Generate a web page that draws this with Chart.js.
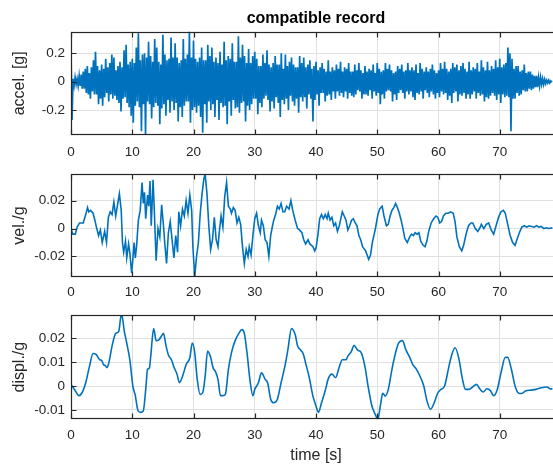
<!DOCTYPE html>
<html>
<head>
<meta charset="utf-8">
<script src="https://cdn.jsdelivr.net/npm/chart.js@4.4.1/dist/chart.umd.min.js"></script>
<style>
html,body{margin:0;padding:0;background:#fff;overflow:hidden;width:553px;height:468px;}
#wrap{position:relative;width:553px;height:468px;overflow:hidden;background:#fff;}
canvas{position:absolute;left:0;}
</style>
</head>
<body>
<div id="wrap">
<canvas id="c1" width="575" height="160" style="top:0px"></canvas>
<canvas id="c2" width="575" height="140" style="top:160px"></canvas>
<canvas id="c3" width="575" height="168" style="top:300px"></canvas>
</div>
<script>
// ---------- data ----------
const titleText = 'compatible record';
const timeTicks = [0, 10, 20, 30, 40, 50, 60, 70];
const accelTicks = [-0.2, 0, 0.2];
const velTicks = [-0.02, 0, 0.02];
const dispTicks = [-0.01, 0, 0.01, 0.02];

// acceleration [g], six samples per second (one row per second)
const accelStep = 1 / 6;
const accelG = [
  0.22,-0.27,0.02,-0.03,0.03,-0.02,   0.02,-0.03,0.04,-0.03,0.05,-0.05,
  0.07,-0.05,0.09,-0.08,0.11,-0.09,   0.06,-0.12,0.10,-0.07,0.15,-0.09,
  0.21,-0.09,0.11,-0.16,0.08,-0.12,   0.12,-0.17,0.09,-0.11,0.16,-0.08,
  0.10,-0.14,0.13,-0.09,0.19,-0.12,   0.17,-0.10,0.08,-0.13,0.11,-0.15,
  0.14,-0.21,0.10,-0.12,0.22,-0.11,   0.26,-0.15,0.12,-0.18,0.14,-0.24,
  0.16,-0.29,0.13,-0.17,0.24,-0.14,   0.34,-0.18,0.15,-0.35,0.19,-0.16,
  0.20,-0.376,0.17,-0.14,0.28,-0.16,  0.18,-0.26,0.14,-0.18,0.30,-0.15,
  0.24,-0.17,0.14,-0.30,0.12,-0.19,   0.33,-0.16,0.19,-0.24,0.15,-0.13,
  0.16,-0.22,0.31,-0.14,0.17,-0.20,   0.27,-0.15,0.17,-0.28,0.13,-0.18,
  0.15,-0.25,0.30,-0.17,0.16,-0.14,   0.19,-0.14,0.352,-0.29,0.17,-0.20,
  0.29,-0.18,0.16,-0.22,0.14,-0.17,   0.17,-0.25,0.24,-0.36,0.15,-0.16,
  0.15,-0.29,0.26,-0.14,0.18,-0.20,   0.24,-0.16,0.14,-0.25,0.17,-0.13,
  0.13,-0.27,0.21,-0.15,0.12,-0.18,   0.28,-0.17,0.15,-0.30,0.18,-0.14,
  0.16,-0.24,0.27,-0.13,0.14,-0.19,   0.14,-0.18,0.32,-0.22,0.17,-0.15,
  0.26,-0.14,0.18,-0.28,0.13,-0.17,   0.23,-0.20,0.13,-0.16,0.18,-0.12,
  0.21,-0.12,0.16,-0.23,0.11,-0.15,   0.11,-0.18,0.19,-0.12,0.13,-0.10,
  0.22,-0.13,0.12,-0.21,0.10,-0.14,   0.13,-0.19,0.18,-0.11,0.12,-0.15,
  0.12,-0.25,0.20,-0.13,0.09,-0.16,   0.19,-0.12,0.11,-0.20,0.14,-0.10,
  0.17,-0.14,0.12,-0.17,0.10,-0.12,   0.10,-0.22,0.18,-0.11,0.13,-0.14,
  0.17,-0.11,0.10,-0.19,0.12,-0.09,   0.15,-0.12,0.09,-0.28,0.11,-0.13,
  0.14,-0.09,0.08,-0.17,0.10,-0.08,   0.13,-0.08,0.09,-0.14,0.07,-0.10,
  0.15,-0.09,0.07,-0.13,0.10,-0.07,   0.08,-0.12,0.12,-0.07,0.09,-0.10,
  0.14,-0.08,0.07,-0.11,0.10,-0.07,   0.09,-0.12,0.13,-0.08,0.07,-0.10,
  0.07,-0.11,0.12,-0.09,0.08,-0.06,   0.13,-0.07,0.08,-0.12,0.06,-0.09,
  0.11,-0.09,0.07,-0.10,0.09,-0.06,   0.08,-0.12,0.12,-0.07,0.06,-0.10,
  0.13,-0.08,0.09,-0.16,0.07,-0.09,   0.08,-0.12,0.13,-0.07,0.09,-0.06,
  0.12,-0.07,0.08,-0.14,0.06,-0.09,   0.07,-0.13,0.11,-0.08,0.09,-0.06,
  0.12,-0.08,0.07,-0.12,0.08,-0.07,   0.13,-0.09,0.08,-0.07,0.10,-0.11,
  0.08,-0.13,0.12,-0.08,0.06,-0.09,   0.13,-0.07,0.09,-0.12,0.07,-0.06,
  0.10,-0.08,0.07,-0.11,0.09,-0.07,   0.12,-0.09,0.08,-0.12,0.06,-0.08,
  0.08,-0.11,0.13,-0.07,0.09,-0.09,   0.14,-0.08,0.09,-0.13,0.07,-0.10,
  0.09,-0.15,0.13,-0.08,0.10,-0.07,   0.12,-0.14,0.08,-0.09,0.11,-0.10,
  0.13,-0.08,0.09,-0.12,0.07,-0.09,   0.14,-0.12,0.08,-0.09,0.10,-0.07,
  0.09,-0.12,0.13,-0.08,0.07,-0.10,   0.15,-0.09,0.10,-0.14,0.08,-0.11,
  0.14,-0.12,0.08,-0.10,0.11,-0.08,   0.09,-0.10,0.15,-0.13,0.10,-0.09,
  0.16,-0.15,0.10,-0.09,0.12,-0.11,   0.13,-0.10,0.24,-0.11,0.20,-0.35,
  0.16,-0.12,0.09,-0.12,0.11,-0.08,   0.11,-0.10,0.07,-0.09,0.08,-0.06,
  0.12,-0.07,0.06,-0.07,0.07,-0.05,   0.07,-0.06,0.05,-0.05,0.04,-0.04,
  0.04,-0.04,0.03,-0.03,0.03,-0.02,   0.02,-0.02,0.015,-0.015,0.01,-0.01,
  0.01,-0.01,0.005,-0.005
];

// velocity / g
const velTime = [
  0.0,0.3,0.7,1.0,1.4,2.0,2.4,2.7,2.9,3.2,
  3.6,3.9,4.1,4.5,4.8,5.1,5.5,5.8,6.1,6.4,
  6.7,7.0,7.3,7.6,7.9,8.2,8.4,8.6,8.9,9.1,
  9.4,9.6,9.9,10.1,10.3,10.5,10.7,11.0,11.3,11.6,
  11.8,12.0,12.2,12.5,12.7,12.9,13.1,13.4,13.6,13.9,
  14.2,14.5,14.8,15.1,15.3,15.6,15.9,16.2,16.5,16.8,
  17.1,17.4,17.6,17.9,18.2,18.5,18.8,19.1,19.4,19.7,
  19.9,20.2,20.5,20.8,21.1,21.4,21.7,21.9,22.2,22.5,
  22.8,23.1,23.4,23.7,24.0,24.2,24.5,24.8,25.1,25.4,
  25.7,26.0,26.2,26.5,26.8,27.1,27.4,27.7,28.0,28.3,
  28.6,28.9,29.1,29.4,29.7,30.0,30.3,30.6,30.9,31.1,
  31.4,31.7,32.0,32.3,32.6,32.9,33.1,33.4,33.7,34.0,
  34.3,34.6,34.9,35.2,35.6,35.9,36.2,36.6,37.0,37.3,
  37.7,38.0,38.3,38.7,39.0,39.5,39.8,40.0,40.3,40.6,
  40.9,41.2,41.5,41.8,42.0,42.3,42.6,42.9,43.2,43.5,
  43.8,44.0,44.3,44.6,44.9,45.2,45.5,45.8,46.1,46.4,
  46.7,47.0,47.3,47.6,48.1,48.6,48.9,49.2,49.7,50.1,
  50.4,50.8,51.1,51.5,51.8,52.1,52.4,52.7,53.0,53.3,
  53.6,53.9,54.2,54.5,54.9,55.3,55.6,55.9,56.2,56.5,
  56.8,57.1,57.5,57.8,58.1,58.4,58.8,59.2,59.6,59.9,
  60.2,60.5,60.8,61.2,61.6,62.0,62.4,62.7,63.0,63.4,
  63.8,64.1,64.5,64.9,65.3,65.6,66.0,66.4,66.7,67.0,
  67.4,67.8,68.2,68.6,69.0,69.4,69.8,70.2,70.6,70.9,
  71.3,71.7,72.1,72.5,72.8,73.2,73.6,74.0,74.4,74.8,
  75.2,75.6,76.0,76.4,76.8,77.2,77.6,78.0,78.6
];
const velG = [
  0.000,-0.004,-0.004,0.001,0.004,0.004,0.010,0.015,0.012,0.013,
  0.011,0.006,0.002,-0.005,-0.001,-0.010,-0.002,-0.010,0.008,0.012,
  0.010,0.019,0.009,0.017,0.025,0.013,-0.010,-0.017,-0.009,-0.021,
  -0.011,-0.017,-0.032,-0.022,-0.010,-0.021,-0.013,0.006,0.013,0.033,
  0.018,0.026,0.007,0.024,0.016,0.034,0.002,0.035,0.013,-0.023,
  0.000,-0.006,0.017,0.002,-0.010,-0.025,-0.003,0.005,-0.008,-0.021,
  -0.005,-0.017,0.012,0.002,0.014,0.009,0.020,0.011,0.024,0.013,
  -0.013,-0.0345,-0.020,-0.010,0.011,0.025,0.036,0.039,0.025,0.002,
  -0.015,-0.008,0.008,-0.008,-0.013,-0.003,0.009,0.001,0.023,0.033,
  0.016,0.014,0.011,0.015,0.013,0.004,0.008,0.003,-0.013,-0.025,
  -0.015,-0.020,-0.013,-0.019,-0.005,0.007,0.011,0.002,-0.003,0.006,
  0.002,-0.008,-0.010,-0.020,-0.005,0.002,0.006,0.010,0.016,0.014,
  0.018,0.012,0.012,0.016,0.014,0.020,0.013,0.006,0.000,-0.001,
  -0.003,-0.008,-0.011,-0.008,-0.011,-0.013,-0.016,-0.014,-0.005,0.007,
  0.010,0.007,0.010,0.007,0.011,0.006,0.008,0.002,0.004,-0.002,
  0.002,0.006,0.012,0.009,0.006,-0.001,0.002,0.006,0.007,0.004,
  0.002,-0.005,-0.008,-0.013,-0.016,-0.022,-0.019,-0.010,0.000,0.010,
  0.014,0.016,0.009,0.002,0.003,0.009,0.013,0.015,0.018,0.015,
  0.011,0.006,0.000,-0.007,-0.010,-0.006,-0.004,-0.005,-0.003,-0.004,
  -0.003,-0.009,-0.012,-0.013,-0.009,-0.002,0.004,0.007,0.009,0.008,
  0.004,0.005,0.009,0.011,0.011,0.012,0.011,0.005,-0.006,-0.013,
  -0.016,-0.012,-0.004,0.002,0.004,0.004,0.000,-0.002,0.000,0.003,
  0.000,0.003,0.004,-0.001,-0.004,0.002,0.008,0.012,0.013,0.011,
  0.003,-0.005,-0.010,-0.012,-0.008,-0.003,0.001,0.002,0.001,0.002,
  0.0015,0.001,0.002,0.001,0.0015,0.000,0.0005,0.000,0.0005
];

// displacement / g
const dispTime = [
  0.0,0.7,1.3,1.8,2.4,3.0,3.6,4.1,4.7,5.0,
  5.3,5.6,5.9,6.2,6.7,7.3,7.8,8.2,8.4,8.7,
  9.1,9.6,10.1,10.5,10.9,11.3,11.8,12.2,12.5,12.8,
  13.0,13.5,13.9,14.3,14.8,15.1,15.5,15.9,16.4,16.8,
  17.3,17.7,18.2,18.8,19.4,19.8,20.2,20.6,21.1,21.5,
  21.9,22.3,22.8,23.2,23.6,24.0,24.4,24.8,25.2,25.7,
  26.2,26.8,27.4,27.9,28.3,28.8,29.2,29.7,30.0,30.6,
  31.1,31.7,32.1,32.6,33.1,33.7,34.3,34.9,35.4,36.0,
  36.6,37.0,37.4,37.9,38.3,38.9,39.5,40.0,40.4,40.9,
  41.5,42.0,42.6,43.2,43.8,44.3,44.9,45.2,45.8,46.2,
  46.8,47.4,48.0,48.5,49.1,49.7,50.1,50.5,50.9,51.3,
  51.8,52.4,53.0,53.5,54.1,54.7,55.3,55.8,56.4,57.0,
  57.6,58.1,58.7,59.3,59.9,60.4,61.0,61.6,62.1,62.7,
  63.3,63.9,64.4,65.0,65.6,66.2,66.7,67.3,67.9,68.5,
  69.0,69.6,70.2,70.9,71.3,71.9,72.5,73.1,73.6,74.2,
  75.1,75.9,76.8,77.7,78.2,78.6
];
const dispG = [
  0.0007,-0.002,-0.004,-0.0028,0.0014,0.008,0.0136,0.0132,0.011,0.0107,
  0.009,0.0085,0.0077,0.010,0.0167,0.022,0.0229,0.0297,0.0285,0.023,
  0.018,0.011,0.000,-0.004,-0.010,-0.011,-0.0104,-0.0014,0.007,0.0075,
  0.012,0.024,0.019,0.0192,0.021,0.022,0.017,0.013,0.011,0.008,
  0.005,0.0014,0.004,0.009,0.0118,0.018,0.014,0.003,-0.0035,-0.0028,
  0.004,0.0146,0.012,0.0076,0.006,0.0028,-0.004,-0.004,-0.0035,0.007,
  0.014,0.019,0.022,0.0236,0.022,0.0125,0.0028,-0.004,-0.0014,0.0014,
  0.0055,0.0028,0.0014,-0.0055,-0.007,-0.0055,0.0014,0.008,0.015,0.024,
  0.0215,0.0167,0.0153,0.0136,0.0097,0.0035,-0.0042,-0.0083,-0.011,-0.007,
  -0.002,0.003,0.005,0.0035,0.008,0.011,0.011,0.0125,0.0146,0.017,
  0.015,0.0139,0.008,0.000,-0.008,-0.012,-0.0139,-0.0083,-0.003,-0.0042,
  -0.0014,0.007,0.014,0.018,0.019,0.015,0.012,0.009,0.007,0.004,
  0.000,-0.006,-0.0097,-0.007,-0.0028,-0.0014,0.000,0.007,0.0125,0.016,
  0.0118,0.003,-0.0014,-0.0014,-0.0003,0.0007,-0.001,-0.0025,-0.0011,-0.002,
  -0.004,-0.0014,0.0055,0.012,0.012,0.007,0.000,-0.003,-0.0031,-0.0021,
  -0.0017,-0.0014,-0.0007,-0.0004,-0.0011,-0.0012
];

// ---------- drawing ----------
const accelTime = accelG.map((_, i) => i * accelStep);
const FONT = "'Liberation Sans', Arial, Helvetica, sans-serif";
const TXT = '#262626';
const BLUE = '#0072BD';
const GRID = '#e0e0e0';
Chart.defaults.font.family = FONT;
Chart.defaults.color = TXT;

const framePlugin = {
  id: 'frame',
  afterDatasetsDraw(chart) {
    const {ctx, chartArea: a, scales} = chart;
    const x = scales.x, y = scales.y;
    const L = Math.round(a.left) + 0.5, R = Math.round(a.right) - 0.5;
    const T = Math.round(a.top) + 0.5, B = Math.round(a.bottom) - 0.5;
    ctx.save();
    ctx.strokeStyle = TXT;
    ctx.lineWidth = 1.2;
    ctx.strokeRect(L, T, R - L, B - T);
    ctx.beginPath();
    x.ticks.forEach(t => {
      const p = Math.round(x.getPixelForValue(t.value)) + 0.5;
      ctx.moveTo(p, T); ctx.lineTo(p, T + 5);
      ctx.moveTo(p, B); ctx.lineTo(p, B - 5);
    });
    y.ticks.forEach(t => {
      const p = Math.round(y.getPixelForValue(t.value)) + 0.5;
      ctx.moveTo(L, p); ctx.lineTo(L + 5, p);
      ctx.moveTo(R, p); ctx.lineTo(R - 5, p);
    });
    ctx.stroke();
    ctx.restore();
  }
};

function panel(id, o) {
  return new Chart(document.getElementById(id), {
    type: 'line',
    data: {
      datasets: [{
        data: o.t.map((tv, i) => ({x: tv, y: o.v[i]})),
        borderColor: BLUE,
        borderWidth: o.lw,
        pointRadius: 0,
        tension: o.smooth ? 0.35 : 0,
        cubicInterpolationMode: o.smooth ? 'monotone' : 'default',
        fill: false
      }]
    },
    options: {
      responsive: false,
      animation: false,
      devicePixelRatio: 1,
      events: [],
      layout: {padding: {top: o.padTop, right: 14, bottom: 0, left: 0}},
      plugins: {
        legend: {display: false},
        tooltip: {enabled: false},
        title: o.title ? {
          display: true, text: o.title, color: '#000', fullSize: false,
          font: {size: 16, weight: 'bold'}, padding: {top: 9, bottom: 3.4}
        } : {display: false}
      },
      scales: {
        x: {
          type: 'linear', min: 0, max: 80,
          afterBuildTicks(s) { s.ticks = timeTicks.map(v => ({value: v})); },
          afterFit(s) { s.height = o.xH; },
          grid: {color: GRID, drawTicks: false},
          border: {display: false},
          ticks: {padding: o.xPad, font: {size: 13.5}, color: TXT, maxRotation: 0, autoSkip: false,
                  callback: v => String(v)},
          title: o.xTitle ? {display: true, text: o.xTitle, font: {size: 16}, color: TXT,
                             padding: {top: 0, bottom: 3}} : {display: false}
        },
        y: {
          min: o.yMin, max: o.yMax,
          afterBuildTicks(s) { s.ticks = o.yTicks.map(v => ({value: v})); },
          afterFit(s) { s.width = 71; },
          grid: {color: GRID, drawTicks: false},
          border: {display: false},
          ticks: {padding: 6, font: {size: 13.5}, color: TXT, autoSkip: false, callback: v => String(v)},
          title: {display: true, text: o.yTitle, font: {size: 16}, color: TXT, padding: {top: 10, bottom: 0}}
        }
      }
    },
    plugins: [framePlugin]
  });
}

panel('c1', {t: accelTime, v: accelG, lw: 1.7, padTop: 0, title: titleText, xH: 25, xPad: 9,
             yMin: -0.376, yMax: 0.352, yTicks: accelTicks, yTitle: 'accel. [g]'});
panel('c2', {t: velTime, v: velG, lw: 1.6, padTop: 13.5, xH: 23, xPad: 7.5,
             yMin: -0.0347, yMax: 0.039, yTicks: velTicks, yTitle: 'vel./g'});
panel('c3', {t: dispTime, v: dispG, lw: 1.6, smooth: true, padTop: 15, xH: 48.7, xPad: 8,
             yMin: -0.0139, yMax: 0.0297, yTicks: dispTicks, yTitle: 'displ./g', xTitle: 'time [s]'});
</script>
</body>
</html>
